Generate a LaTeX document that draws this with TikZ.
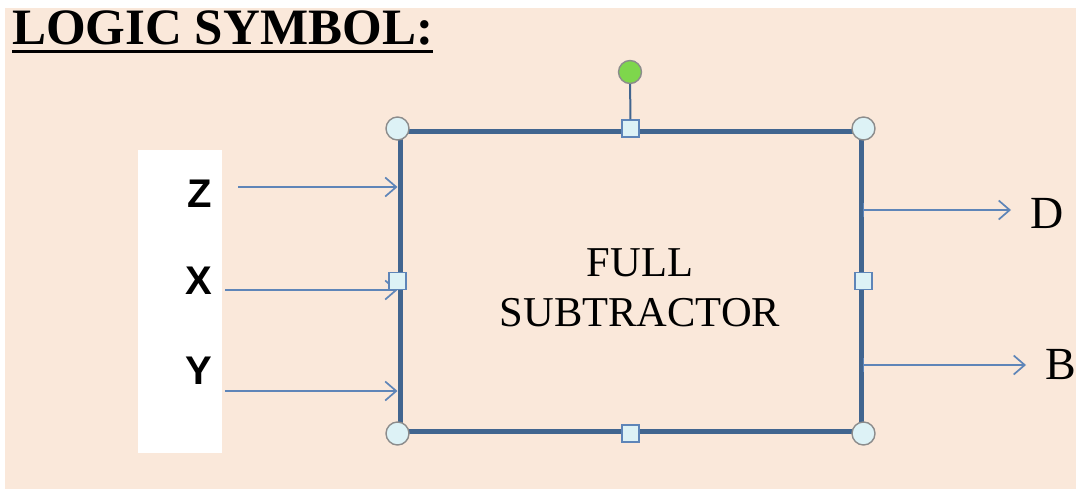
\documentclass[tikz,border=0pt]{standalone}
\usepackage{fontspec}
\setmainfont{Liberation Serif}
\newfontfamily\arialfont{Liberation Sans}
\usetikzlibrary{arrows.meta}
\definecolor{bgpeach}{HTML}{FAE8DA}
\definecolor{boxblue}{HTML}{41658F}
\definecolor{arrblue}{HTML}{5E85B8}
\definecolor{handlefill}{HTML}{DDF2F6}
\definecolor{handlerim}{HTML}{8C8C8C}
\definecolor{rotgreen}{HTML}{7ED64C}
\tikzset{
  sig/.style={draw=arrblue, line width=1.8pt, -{Straight Barb[length=11pt,width=19pt,line width=1.7pt]}},
  roundhandle/.style={circle, draw=handlerim, fill=handlefill, line width=1.4pt, minimum size=23pt, inner sep=0pt},
  squarehandle/.style={rectangle, draw=arrblue, fill=handlefill, line width=1.4pt, minimum size=17pt, inner sep=0pt},
  inlabel/.style={font=\arialfont\bfseries\fontsize{40}{42}\selectfont, anchor=east, inner sep=0pt},
  outlabel/.style={font=\fontsize{46}{50}\selectfont, anchor=west, inner sep=0pt},
}
\begin{document}
\begin{tikzpicture}[x=1pt,y=-1pt]
\useasboundingbox (0,0) rectangle (1078,490);
\fill[white] (0,0) rectangle (1078,490);
\fill[bgpeach] (5,8) rectangle (1076,489);
% title
\node[anchor=base west, inner sep=0pt, font=\bfseries\fontsize{51}{55}\selectfont] (title) at (12,44) {LOGIC SYMBOL:};
\draw[line width=3.2pt] ([yshift=-7.5pt]title.base west) -- ([yshift=-7.5pt]title.base east);
% white panel
\fill[white] (138,150) rectangle (222,453);
% input labels
\node[inlabel] (zl) at (212,194) {Z};
\node[inlabel] (xl) at (212,281) {X};
\node[inlabel] (yl) at (212,371) {Y};
% main box
\node[draw=boxblue, line width=5pt, minimum width=461pt, minimum height=300pt, inner sep=0pt] (fs) at (630.5,281) {};
\node[align=center, font=\fontsize{42.5}{50}\selectfont, inner sep=0pt] (fstext) at (640,288) {FULL\\SUBTRACTOR};
% input arrows
\coordinate (zin) at (238,187);
\coordinate (xin) at (225,290);
\coordinate (yin) at (225,391);
\draw[sig] (zin) -- (zin -| fs.west);
\draw[sig] (xin) -- (xin -| fs.west);
\draw[sig] (yin) -- (yin -| fs.west);
% outputs
\node[outlabel] (dl) at (1030,213) {D};
\node[outlabel] (bl) at (1045,365) {B};
\coordinate (dout) at (fs.east |- 0,210);
\coordinate (bout) at (fs.east |- 0,365);
\coordinate (dend) at (1011,210);
\coordinate (bend) at (1026,365);
\draw[sig] (dout) -- (dend);
\draw[sig] (bout) -- (bend);
\draw[arrblue, line width=1.6pt] ([yshift=7pt]dout) -- ([yshift=-7pt]dout);
\draw[arrblue, line width=1.6pt] ([yshift=7pt]bout) -- ([yshift=-7pt]bout);
% rotation handle
\node[circle, draw=handlerim, fill=rotgreen, line width=1.4pt, minimum size=23pt, inner sep=0pt] (rot) at (630,72) {};
\node[squarehandle] (hn) at (fs.north) {};
\draw[boxblue, line width=2pt] (rot) -- (hn);
% handles
\node[squarehandle] (hs) at (fs.south) {};
\node[squarehandle] (hw) at (fs.west) {};
\node[squarehandle] (he) at (fs.east) {};
\node[roundhandle] (hnw) at (fs.north west) {};
\node[roundhandle] (hne) at (fs.north east) {};
\node[roundhandle] (hsw) at (fs.south west) {};
\node[roundhandle] (hse) at (fs.south east) {};
\end{tikzpicture}
\end{document}
